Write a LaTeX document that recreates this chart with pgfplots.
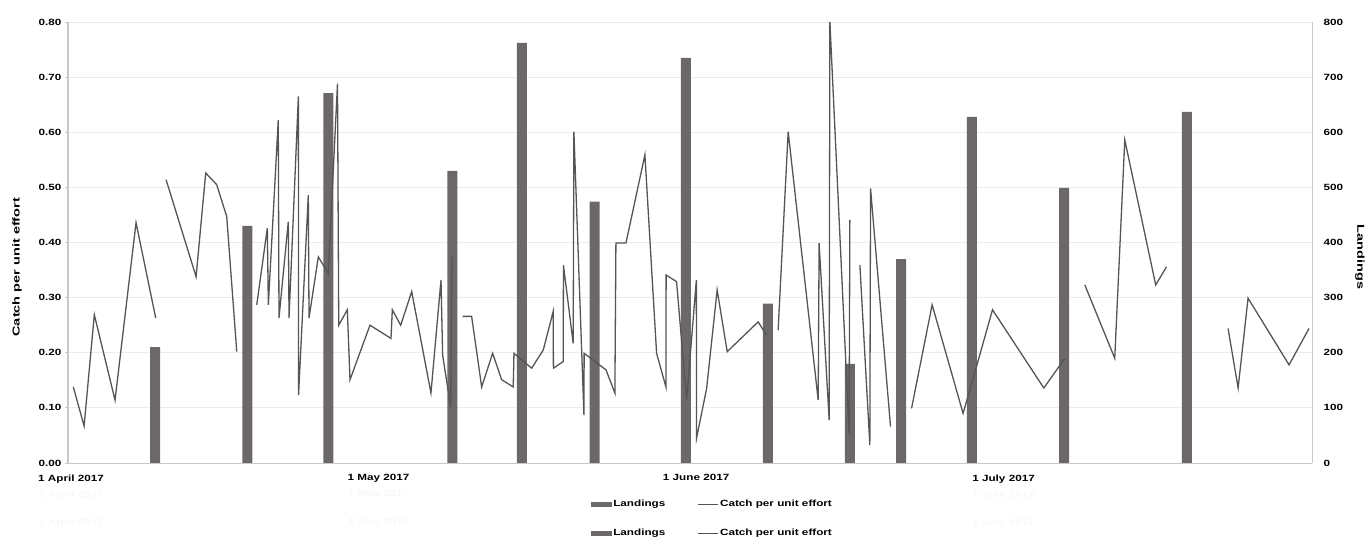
\documentclass[border=0pt]{standalone}
\usepackage{fontspec}
\setmainfont{Liberation Sans}[FakeStretch=1.3]
\newfontfamily\labfont{Liberation Sans}[FakeStretch=1.45]
\usepackage{pgfplots}
\pgfplotsset{compat=1.18}
\definecolor{barcol}{RGB}{108,103,105}
\definecolor{linecol}{RGB}{85,85,85}
\definecolor{gridcol}{RGB}{236,236,236}
\definecolor{axcol}{RGB}{200,200,200}
\definecolor{ghost}{RGB}{248,248,248}
\begin{document}
\begin{tikzpicture}
\useasboundingbox (0,0) rectangle (1368pt,539pt);
\pgfplotsset{
  base/.style={
    at={(68pt,76pt)}, anchor=south west,
    scale only axis, width=1244pt, height=441pt,
    xmin=-0.3, xmax=121.1,
    tick label style={font=\fontsize{9}{10}\selectfont\bfseries},
    /pgf/number format/assume math mode=true,
  }
}
\begin{axis}[base,
  axis x line=none, axis y line*=right,
  ymin=0, ymax=800, ytick={0,100,200,300,400,500,600,700,800},
  ymajorgrids, grid style={gridcol, line width=1pt},
  axis line style={axcol, line width=1pt},
  major tick length=0pt,
  yticklabel style={anchor=west, xshift=8pt},
  ylabel={\labfont\fontsize{10}{12}\selectfont\bfseries Landings},
  ylabel style={at={(axis description cs:1.0386,0.467)}, anchor=center, rotate=180},
]
\addplot[ybar, bar width=10pt, fill=barcol, draw=none] coordinates {
(8.2,210) (17.2,430) (25.1,671) (37.2,530) (44.0,762) (51.1,474) (60.0,735)
(68.0,289) (76.0,180) (81.0,370) (87.9,628) (96.9,499) (108.9,637)
};
\end{axis}
\begin{axis}[base,
  axis x line*=bottom, axis y line*=left,
  ymin=0, ymax=0.8, ytick={0,0.1,0.2,0.3,0.4,0.5,0.6,0.7,0.8},
  yticklabel style={/pgf/number format/.cd, fixed, fixed zerofill, precision=2},
  axis line style={axcol, line width=1pt},
  ytick style={axcol, line width=0.8pt},
  tick align=outside, major tick length=3pt,
  xtick={0,30,61,91},
  xticklabels={
    {1 April 2017\\[6pt]\textcolor{ghost}{1 April 2017}\\[18pt]\textcolor{ghost}{1 April 2017}},
    {1 May 2017\\[6pt]\textcolor{ghost}{1 May 2017}\\[18pt]\textcolor{ghost}{1 May 2017}},
    {1 June 2017},
    {1 July 2017\\[6pt]\textcolor{ghost}{1 July 2017}\\[18pt]\textcolor{ghost}{1 July 2017}}},
  xticklabel style={align=center, anchor=north, yshift=-5pt},
  xtick style={draw=none},
  ylabel={\labfont\fontsize{10}{12}\selectfont\bfseries Catch per unit effort},
  ylabel style={at={(axis description cs:-0.041,0.444)}, anchor=center},
  unbounded coords=jump,
  legend columns=2,
  legend cell align=left,
  legend style={at={(axis description cs:0.518,-0.1259)}, anchor=center,
    draw=none, fill=none, font=\fontsize{9}{10}\selectfont\bfseries,
    /tikz/every even column/.append style={column sep=30pt}, row sep=17pt},
]
\addlegendimage{legend image code/.code={\fill[barcol] (0pt,-1.8pt) rectangle (20pt,1.8pt);}}
\addlegendentry{Landings}
\addlegendimage{legend image code/.code={\draw[linecol, line width=0.8pt] (0pt,0pt) -- (20pt,0pt);}}
\addlegendentry{Catch per unit effort}
\addlegendimage{legend image code/.code={\fill[barcol] (0pt,-1.8pt) rectangle (20pt,1.8pt);}}
\addlegendentry{Landings}
\addlegendimage{legend image code/.code={\draw[linecol, line width=0.8pt] (0pt,0pt) -- (20pt,0pt);}}
\addlegendentry{Catch per unit effort}
\addplot[linecol, line width=1.3pt, forget plot] coordinates {
(0.22,0.138) (1.27,0.067) (2.27,0.269) (4.29,0.114) (6.34,0.436) (8.26,0.263)
(8.8,nan)
(9.27,0.514) (12.20,0.338) (13.14,0.526) (14.21,0.505) (15.19,0.447) (16.17,0.202)
(17.2,nan)
(18.12,0.287) (19.15,0.426) (19.25,0.287) (20.22,0.622) (20.29,0.263) (21.20,0.438)
(21.27,0.263) (22.18,0.665) (22.20,0.123) (23.15,0.486) (23.22,0.263) (24.13,0.374)
(25.10,0.344) (26.00,0.688) (26.12,0.250) (26.96,0.278) (27.22,0.151) (29.17,0.250)
(31.22,0.226) (31.35,0.278) (32.17,0.250) (33.24,0.311) (35.12,0.127) (36.10,0.332)
(36.26,0.196) (37.04,0.102) (37.17,0.374)
(37.7,nan)
(38.21,0.266) (39.09,0.266) (40.07,0.138) (41.14,0.199) (42.02,0.151) (43.15,0.138)
(43.22,0.199) (44.95,0.172) (46.08,0.205) (47.05,0.275) (47.07,0.172) (48.03,0.184)
(48.05,0.359) (49.00,0.217) (49.07,0.601) (50.05,0.087) (50.07,0.199) (52.20,0.169)
(53.07,0.127) (53.17,0.399) (54.15,0.399) (56.00,0.559) (57.14,0.199) (58.05,0.138)
(58.07,0.341) (59.09,0.329) (60.07,0.114) (61.02,0.332) (61.04,0.045) (62.02,0.135)
(63.05,0.314) (64.03,0.202) (67.05,0.256) (67.87,0.232)
(68.4,nan)
(69.00,0.241) (69.98,0.601) (72.91,0.114) (73.00,0.399) (73.98,0.078) (74.05,0.801)
(75.93,0.054) (76.00,0.441)
(76.5,nan)
(76.98,0.359) (77.95,0.033) (78.02,0.498) (79.97,0.066)
(81.0,nan)
(82.02,0.099) (84.03,0.287) (87.05,0.090) (88.36,0.175) (89.92,0.278) (94.93,0.136)
(96.98,0.190)
(98.0,nan)
(98.93,0.323) (101.85,0.190) (102.83,0.586) (105.85,0.323) (106.90,0.356)
(110.0,nan)
(112.91,0.244) (113.89,0.136) (114.86,0.299) (118.86,0.178) (120.81,0.244)
};
\end{axis}
\end{tikzpicture}
\end{document}
